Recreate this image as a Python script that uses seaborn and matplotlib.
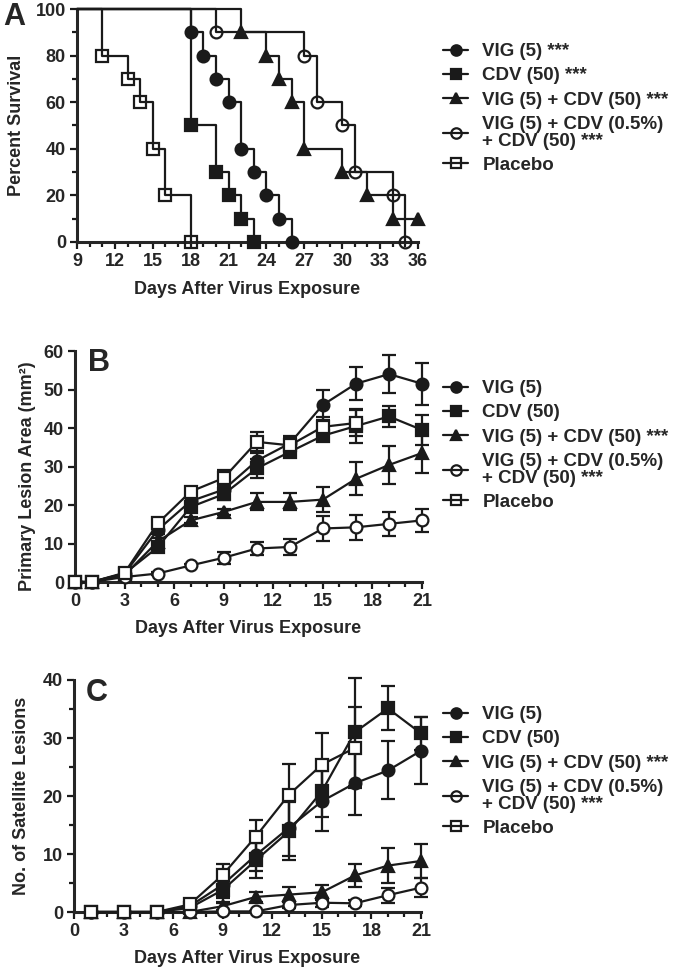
import matplotlib
matplotlib.use('Agg')
import matplotlib.pyplot as plt
from matplotlib.lines import Line2D
from matplotlib.ticker import MultipleLocator
import seaborn as sns

sns.set_theme(style='ticks')
plt.rcParams['font.family'] = ['Liberation Sans', 'DejaVu Sans']
plt.rcParams['font.weight'] = 'bold'
plt.rcParams['axes.labelweight'] = 'bold'

W, H = 680, 971

# group styles (same order in every panel)
markers = ['o', 's', '^', 'o', 's']
filled = [True, True, True, False, False]

labels_a = ['VIG (5) ***', 'CDV (50) ***', 'VIG (5) + CDV (50) ***',
            'VIG (5) + CDV (0.5%)\n+ CDV (50) ***', 'Placebo']
labels_bc = ['VIG (5)', 'CDV (50)', 'VIG (5) + CDV (50) ***',
             'VIG (5) + CDV (0.5%)\n+ CDV (50) ***', 'Placebo']

# A: survival - day of each death and % surviving after it
a_vig_day = [18, 19, 20, 21, 22, 23, 24, 25, 26]
a_vig_pct = [90, 80, 70, 60, 40, 30, 20, 10, 0]
a_cdv_day = [18, 20, 21, 22, 23]
a_cdv_pct = [50, 30, 20, 10, 0]
a_combo_day = [22, 24, 25, 26, 27, 30, 32, 34, 36]
a_combo_pct = [90, 80, 70, 60, 40, 30, 20, 10, 10]
a_triple_day = [20, 27, 28, 30, 31, 34, 35]
a_triple_pct = [90, 80, 60, 50, 30, 20, 0]
a_plac_day = [11, 13, 14, 15, 16, 18]
a_plac_pct = [80, 70, 60, 40, 20, 0]

# B: primary lesion area (mean, SE)
b_days = [0, 1, 3, 5, 7, 9, 11, 13, 15, 17, 19, 21]
b_vig = [0, 0, 2.2, 13.5, 21, 24, 31.5, 36, 46, 51.5, 54, 51.5]
b_vig_se = [0, 0, 0.3, 1, 1.5, 1.8, 2, 2, 4, 4.3, 5, 5.5]
b_cdv = [0, 0, 2.2, 9, 19.5, 22.8, 29.5, 33.8, 38, 40.5, 43, 39.5]
b_cdv_se = [0, 0, 0.3, 1, 1.2, 1.5, 2.5, 1.2, 1.5, 4.5, 2.7, 4]
b_combo = [0, 0, 1.8, 10.5, 16, 18.2, 20.8, 20.8, 21.4, 26.8, 30.4, 33.5]
b_combo_se = [0, 0, 0.2, 0.8, 0.8, 0.8, 2.2, 2.2, 3.3, 4.3, 5, 5.3]
b_triple = [0, 0, 1.3, 2.2, 4.3, 6.3, 8.7, 9.1, 13.9, 14.2, 15.1, 16]
b_triple_se = [0, 0, 0.2, 0.3, 0.5, 1.5, 1.7, 2, 3.2, 3.2, 3.2, 3]
b_plac_days = [0, 1, 3, 5, 7, 9, 11, 13, 15, 17]
b_plac = [0, 0, 2.4, 15.2, 23.5, 27, 36.4, 35.5, 40.3, 41.3]
b_plac_se = [0, 0, 0.3, 1, 1, 2, 2.5, 2.2, 2.5, 3.5]

# C: satellite lesions (mean, SE)
c_days = [1, 3, 5, 7, 9, 11, 13, 15, 17, 19, 21]
c_vig = [0, 0, 0, 1, 4.7, 9.8, 14.5, 19.1, 22.2, 24.4, 27.8]
c_vig_se = [0, 0, 0, 0.5, 2.3, 2.8, 4.8, 5.2, 5.5, 5, 5.8]
c_cdv = [0, 0, 0, 0.7, 3.8, 8.9, 13.9, 20.8, 31, 35.1, 30.8]
c_cdv_se = [0, 0, 0, 0.5, 2, 3, 5, 4.5, 9.3, 3.8, 2.8]
c_combo = [0, 0, 0, 0, 1, 2.6, 3, 3.4, 6.3, 8, 8.8]
c_combo_se = [0, 0, 0, 0, 0.6, 0.8, 1.3, 1.3, 2, 3, 3]
c_triple = [0, 0, 0, 0, 0.1, 0.1, 1.2, 1.6, 1.5, 2.9, 4.2]
c_triple_se = [0, 0, 0, 0, 0, 0, 0.5, 0.8, 0.5, 1.3, 1.6]
c_plac_days = [1, 3, 5, 7, 9, 11, 13, 15, 17]
c_plac = [0, 0, 0, 1.3, 6.4, 13, 20.2, 25.4, 28.3]
c_plac_se = [0, 0, 0, 0.3, 1.9, 2.8, 5.3, 5.5, 7]

fig = plt.figure(figsize=(W / 100, H / 100), dpi=100)


def px_axes(left, top, right, bottom):
    return fig.add_axes([left / W, 1 - bottom / H, (right - left) / W, (bottom - top) / H])


def style_axes(ax, xmaj, ymaj, ymin=None):
    sns.despine(ax=ax)
    for s in ax.spines.values():
        s.set_linewidth(2.2)
    ax.xaxis.set_major_locator(MultipleLocator(xmaj))
    ax.xaxis.set_minor_locator(MultipleLocator(1))
    ax.yaxis.set_major_locator(MultipleLocator(ymaj))
    if ymin:
        ax.yaxis.set_minor_locator(MultipleLocator(ymin))
    ax.tick_params(which='major', length=5, width=1.6, direction='out', labelsize=13, pad=3, color='k')
    ax.tick_params(which='minor', length=3.5, width=1.6, direction='out', color='k')
    ax.set_facecolor('white')


def add_legend(labels, top_px):
    handles = [Line2D([], [], color='k', lw=1.6, marker=m, ms=7.5,
                      mfc='k' if f else 'none', mec='k', mew=1.6)
               for m, f in zip(markers, filled)]
    leg = fig.legend(handles, labels, loc='upper left',
                     bbox_to_anchor=(443 / W, 1 - top_px / H),
                     frameon=False, fontsize=13.5, handlelength=1.35,
                     handletextpad=0.75, borderpad=0, borderaxespad=0,
                     labelspacing=0.38)
    for t in leg.get_texts():
        t.set_linespacing(1.0)


# ---------- A ----------
ax = px_axes(77, 9, 418, 242)
surv = [(a_vig_day, a_vig_pct), (a_cdv_day, a_cdv_pct), (a_combo_day, a_combo_pct),
        (a_triple_day, a_triple_pct), (a_plac_day, a_plac_pct)]
for (d, p), m, f in zip(surv, markers, filled):
    sns.lineplot(x=[9] + d, y=[100] + p, drawstyle='steps-post', color='k', lw=1.6,
                 estimator=None, sort=False, ax=ax, clip_on=False, zorder=3)
    sns.lineplot(x=d, y=p, marker=m, linestyle='', color='k', ms=8.5,
                 mfc='k' if f else 'none', mec='k', mew=1.6,
                 estimator=None, sort=False, ax=ax, clip_on=False, zorder=4)
ax.set_xlim(9, 36)
ax.set_ylim(0, 100)
style_axes(ax, 3, 20, 10)
ax.set_xlabel('Days After Virus Exposure', fontsize=13, labelpad=8)
ax.set_ylabel('Percent Survival', fontsize=13, va='center')
ax.yaxis.set_label_coords((17 - 77) / 341, 0.5)
fig.text(14 / W, 1 - 17 / H, 'A', fontsize=22, fontweight='bold', ha='center', va='center')
add_legend(labels_a, 43)


def lesion_panel(ax, series):
    for (d, v, se), m, f in zip(series, markers, filled):
        ax.errorbar(d, v, yerr=se, fmt='none', ecolor='k', elinewidth=1.6,
                    capsize=5, capthick=1.6, clip_on=False, zorder=2)
        sns.lineplot(x=d, y=v, marker=m, color='k', lw=1.6, ms=8.5,
                     mfc='k' if f else 'white', mec='k', mew=1.6,
                     estimator=None, sort=False, ax=ax, clip_on=False, zorder=3)


# ---------- B ----------
ax = px_axes(75, 351, 422, 582)
lesion_panel(ax, [(b_days, b_vig, b_vig_se), (b_days, b_cdv, b_cdv_se),
                  (b_days, b_combo, b_combo_se), (b_days, b_triple, b_triple_se),
                  (b_plac_days, b_plac, b_plac_se)])
ax.set_xlim(0, 21)
ax.set_ylim(0, 60)
style_axes(ax, 3, 10)
ax.set_xlabel('Days After Virus Exposure', fontsize=13, labelpad=7)
ax.set_ylabel('Primary Lesion Area (mm²)', fontsize=13, va='center')
ax.yaxis.set_label_coords((28 - 75) / 347, 0.46)
fig.text(99 / W, 1 - 363 / H, 'B', fontsize=22, fontweight='bold', ha='center', va='center')
add_legend(labels_bc, 380)

# ---------- C ----------
ax = px_axes(74, 680, 421, 912)
lesion_panel(ax, [(c_days, c_vig, c_vig_se), (c_days, c_cdv, c_cdv_se),
                  (c_days, c_combo, c_combo_se), (c_days, c_triple, c_triple_se),
                  (c_plac_days, c_plac, c_plac_se)])
ax.set_xlim(0, 21)
ax.set_ylim(0, 40)
style_axes(ax, 3, 10, 5)
ax.set_xlabel('Days After Virus Exposure', fontsize=13, labelpad=7)
ax.set_ylabel('No. of Satellite Lesions', fontsize=13, va='center')
ax.yaxis.set_label_coords((21 - 74) / 347, 0.5)
fig.text(97 / W, 1 - 693 / H, 'C', fontsize=22, fontweight='bold', ha='center', va='center')
add_legend(labels_bc, 706)

fig.savefig('out.png', dpi=100, facecolor='white')
